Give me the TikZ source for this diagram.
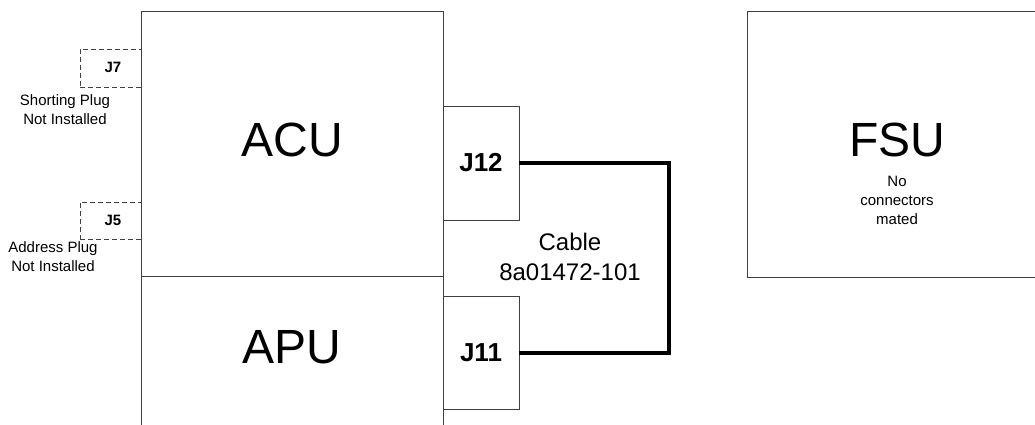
\documentclass[tikz,border=0pt]{standalone}
\usepackage{fontspec}
\setmainfont{Liberation Sans}
\begin{document}
\begin{tikzpicture}[x=1pt,y=-1pt,
  box/.style={draw=black!75, line width=1pt, inner sep=0pt, outer sep=0pt, anchor=north west},
  plug/.style={draw=black!75, line width=1pt, dash pattern=on 5pt off 3pt, inner sep=0pt, outer sep=0pt, anchor=north west},
  big/.style={font=\fontsize{48}{48}\selectfont, inner sep=0pt},
  jlab/.style={font=\bfseries\fontsize{26}{26}\selectfont},
  plab/.style={font=\bfseries\fontsize{15}{15}\selectfont, inner sep=0pt},
  small/.style={font=\fontsize{15}{19}\selectfont, align=center, inner sep=0pt},
  cabletext/.style={font=\fontsize{24}{30}\selectfont, align=center, inner sep=0pt},
  cable/.style={draw=black, line width=4pt}]
\useasboundingbox (0,0) rectangle (1035,424);
% main boxes
\node[box, minimum width=302pt, minimum height=265pt] (acu) at (141,11) {};
\node[box, minimum width=302pt, minimum height=170pt] (apu) at (141,276) {};
\node[box, minimum width=76pt, minimum height=114pt, jlab] (j12) at (443,106) {J12};
\node[box, minimum width=76pt, minimum height=113pt, jlab] (j11) at (443,296) {J11};
\node[box, minimum width=300pt, minimum height=266pt] (fsu) at (747,11) {};
% plugs
\node[plug, minimum width=61pt, minimum height=38pt] (j7) at (80,49) {};
\node[plug, minimum width=61pt, minimum height=37pt] (j5) at (80,202) {};
% labels
\node[big] (acut) at (292,140) {ACU};
\node[big] (aput) at (292,347) {APU};
\node[big] (fsut) at (897,140) {FSU};
\node[plab] (j7t) at (113,67) {J7};
\node[plab] (j5t) at (113,220) {J5};
\node[small] (j7n) at (65,110) {Shorting Plug\\Not Installed};
\node[small] (j5n) at (53,257) {Address Plug\\Not Installed};
\node[small] (fsun) at (897,200) {No\\connectors\\mated};
\node[cabletext] (cablet) at (570,257) {Cable\\8a01472-101};
% cable
\draw[cable] (j12.east) -- ++(150,0) |- (j11.east);
\end{tikzpicture}
\end{document}
